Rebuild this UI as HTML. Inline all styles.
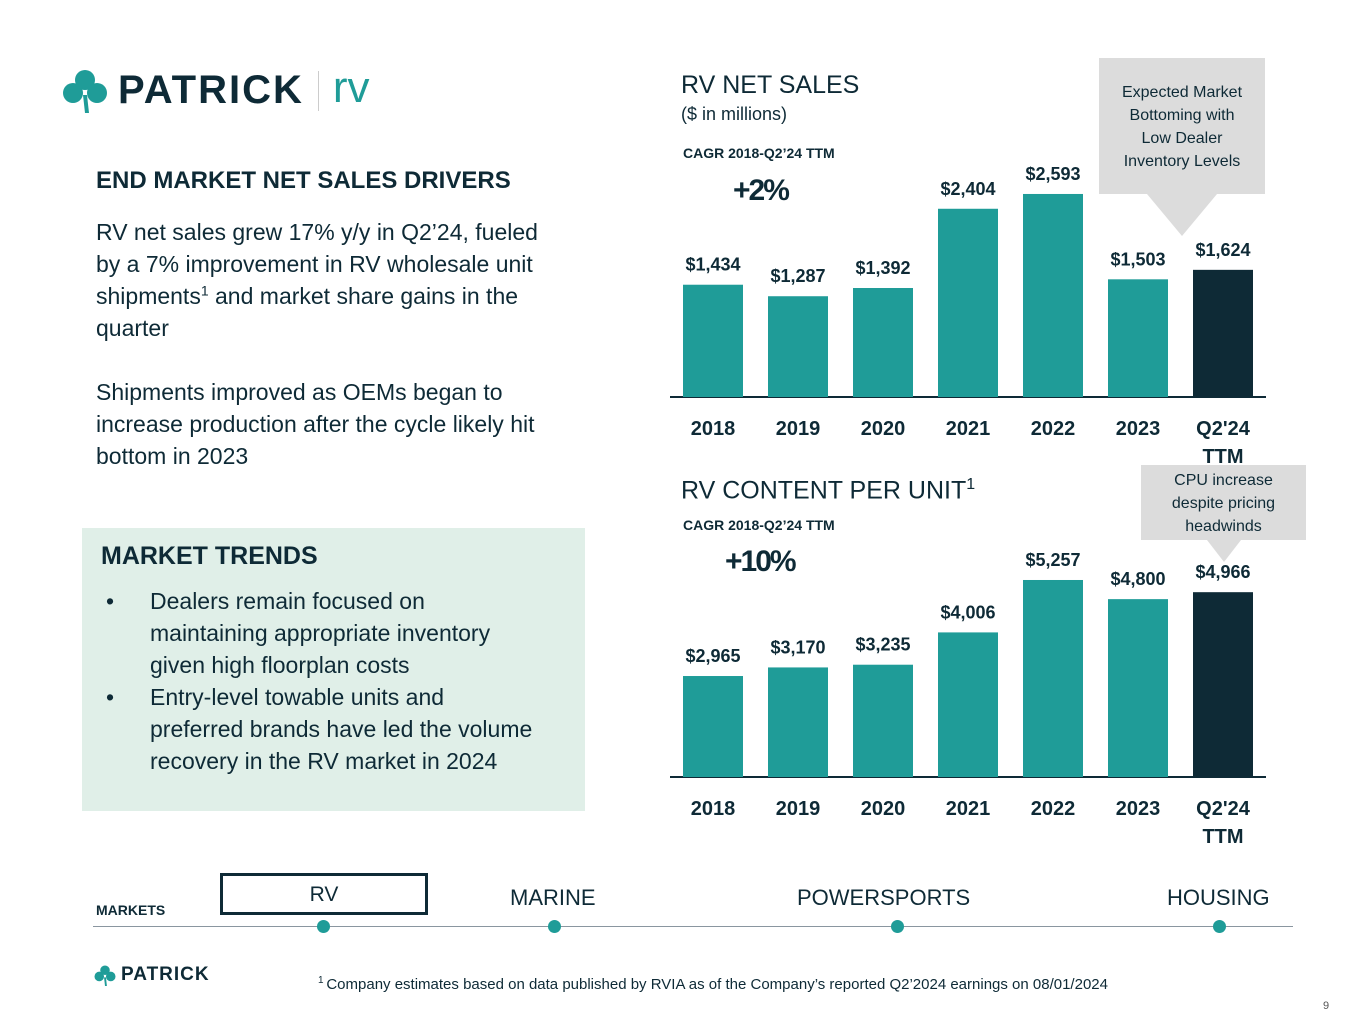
<!DOCTYPE html>
<html><head><meta charset="utf-8">
<style>
body{margin:0;width:1365px;height:1024px;background:#fff;font-family:"Liberation Sans",sans-serif;position:relative;overflow:hidden;color:#0e2a36}
.abs{position:absolute}
.body{font-size:23px;line-height:32px;color:#0e2a36;white-space:nowrap}
</style></head><body>
<div class="abs" style="left:62px;top:68px;display:flex;align-items:center">
<svg width="46" height="44" viewBox="0 0 46 44"><g fill="#1f9c98"><circle cx="23" cy="11" r="10"/><circle cx="11" cy="24" r="10"/><circle cx="35" cy="24" r="10"/><path d="M21 26 L25 26 L27 44 L23 44 Z"/></g></svg>
<span style="font-weight:bold;font-size:40px;letter-spacing:2px;margin-left:10px;color:#0e2a36">PATRICK</span>
<span style="display:inline-block;width:1px;height:40px;background:#ccc;margin:0 14px"></span>
<span style="font-size:44px;color:#1f9c98;margin-top:-6px">rv</span>
</div>
<div class="abs" style="left:96px;top:167px;font-weight:bold;font-size:24px">END MARKET NET SALES DRIVERS</div>
<div class="abs body" style="left:96px;top:216px">RV net sales grew 17% y/y in Q2’24, fueled<br>by a 7% improvement in RV wholesale unit<br>shipments<sup style="font-size:14px;line-height:0">1</sup> and market share gains in the<br>quarter<br><br>Shipments improved as OEMs began to<br>increase production after the cycle likely hit<br>bottom in 2023</div>
<div class="abs" style="left:82px;top:528px;width:503px;height:283px;background:#e0efe8">
<div style="position:absolute;left:19px;top:14px;font-weight:bold;font-size:25px">MARKET TRENDS</div>
<div class="body" style="position:absolute;left:24px;top:57px;width:470px">
<div style="display:flex"><span style="width:44px">•</span><span style="flex:1">Dealers remain focused on<br>maintaining appropriate inventory<br>given high floorplan costs</span></div>
<div style="display:flex"><span style="width:44px">•</span><span style="flex:1">Entry-level towable units and<br>preferred brands have led the volume<br>recovery in the RV market in 2024</span></div>
</div></div>
<div class="abs" style="left:681px;top:71px;font-size:25px">RV NET SALES</div>
<div class="abs" style="left:681px;top:104px;font-size:18px">($ in millions)</div>
<div class="abs" style="left:683px;top:145px;font-size:14px;font-weight:bold">CAGR 2018-Q2’24 TTM</div>
<div class="abs" style="left:733px;top:174px;font-size:30px;font-weight:bold;letter-spacing:-2px">+2%</div>
<div class="abs" style="left:681px;top:476px;font-size:25px">RV CONTENT PER UNIT<sup style="font-size:16px">1</sup></div>
<div class="abs" style="left:683px;top:517px;font-size:14px;font-weight:bold">CAGR 2018-Q2’24 TTM</div>
<div class="abs" style="left:725px;top:545px;font-size:30px;font-weight:bold;letter-spacing:-2px">+10%</div>
<div class="abs" style="left:1099px;top:58px;width:166px;height:136px;background:#dcdcdc;font-size:16px;line-height:23px;text-align:center;padding-top:23px;box-sizing:border-box">Expected Market<br>Bottoming with<br>Low Dealer<br>Inventory Levels</div>
<div class="abs" style="left:1147px;top:194px;width:0;height:0;border-left:35px solid transparent;border-right:35px solid transparent;border-top:42px solid #dcdcdc"></div>
<div class="abs" style="left:1141px;top:465px;width:165px;height:75px;background:#dcdcdc;font-size:16px;line-height:23px;text-align:center;padding-top:4px;box-sizing:border-box">CPU increase<br>despite pricing<br>headwinds</div>
<div class="abs" style="left:1207px;top:540px;width:0;height:0;border-left:17px solid transparent;border-right:17px solid transparent;border-top:22px solid #dcdcdc"></div>
<svg id="charts" class="abs" style="left:0;top:0" width="1365" height="1024"></svg>
<div class="abs" style="left:96px;top:902px;font-size:14px;font-weight:bold">MARKETS</div>
<div class="abs" style="left:220px;top:873px;width:208px;height:42px;border:3px solid #0e2a36;box-sizing:border-box;text-align:center;line-height:38px;font-size:21px">RV</div>
<div class="abs" style="left:510px;top:885px;font-size:22px">MARINE</div>
<div class="abs" style="left:797px;top:885px;font-size:22px">POWERSPORTS</div>
<div class="abs" style="left:1167px;top:885px;font-size:22px">HOUSING</div>
<div class="abs" style="left:93px;top:926px;width:1200px;height:1px;background:#8a96a0"></div>
<div class="abs" style="left:317px;top:920px;width:13px;height:13px;border-radius:50%;background:#1f9c98"></div>
<div class="abs" style="left:548px;top:920px;width:13px;height:13px;border-radius:50%;background:#1f9c98"></div>
<div class="abs" style="left:891px;top:920px;width:13px;height:13px;border-radius:50%;background:#1f9c98"></div>
<div class="abs" style="left:1213px;top:920px;width:13px;height:13px;border-radius:50%;background:#1f9c98"></div>
<div class="abs" style="left:94px;top:964px;display:flex;align-items:center">
<svg width="22" height="21" viewBox="0 0 46 44"><g fill="#1f9c98"><circle cx="23" cy="11" r="10"/><circle cx="11" cy="24" r="10"/><circle cx="35" cy="24" r="10"/><path d="M21 26 L25 26 L27 44 L23 44 Z"/></g></svg>
<span style="font-weight:bold;font-size:19px;margin-left:5px;letter-spacing:1px">PATRICK</span></div>
<div class="abs" style="left:318px;top:975px;font-size:15px;white-space:nowrap"><sup style="font-size:10px">1 </sup>Company estimates based on data published by RVIA as of the Company’s reported Q2’2024 earnings on 08/01/2024</div>
<div class="abs" style="left:1323px;top:1000px;font-size:11px;color:#555">9</div>
<script>
const categories=["2018","2019","2020","2021","2022","2023","Q2'24|TTM"];
const salesValues=[1434,1287,1392,2404,2593,1503,1624];
const salesLabels=["$1,434","$1,287","$1,392","$2,404","$2,593","$1,503","$1,624"];
const cpuValues=[2965,3170,3235,4006,5257,4800,4966];
const cpuLabels=["$2,965","$3,170","$3,235","$4,006","$5,257","$4,800","$4,966"];
const svg=document.getElementById('charts');
const NS='http://www.w3.org/2000/svg';
function mk(t,a){const e=document.createElementNS(NS,t);for(const k in a)e.setAttribute(k,a[k]);svg.appendChild(e);return e;}
function x(i){return 713+i*85;}
function drawChart(vals,labels,base,minV,scale,prefix){
  const y=v=>base-(v-minV)*scale;
  const ax=mk('line',{x1:670,x2:1266,y1:base,y2:base,stroke:'#0e2a36','stroke-width':2});
  
  
  vals.forEach((v,i)=>{
    const r=mk('rect',{x:x(i)-30,y:y(v),width:60,height:base-y(v),fill:i==vals.length-1?'#0e2a36':'#1f9c98'});
    
    
    const t=mk('text',{x:x(i),y:y(v)-14,'text-anchor':'middle','font-size':18,'font-weight':'bold',fill:'#0e2a36','font-family':'Liberation Sans, sans-serif'});
    t.textContent=labels[i];
    
    
    categories[i].split('|').forEach((s,j)=>{
      const c=mk('text',{x:x(i),y:base+38+j*28,'text-anchor':'middle','font-size':20,'font-weight':'bold',fill:'#0e2a36','font-family':'Liberation Sans, sans-serif'});
      c.textContent=s;
      
      
    });
  });
}
drawChart(salesValues,salesLabels,397,0,0.0783,'sales');
drawChart(cpuValues,cpuLabels,777,555,0.0419,'cpu');
</script>
</body></html>
